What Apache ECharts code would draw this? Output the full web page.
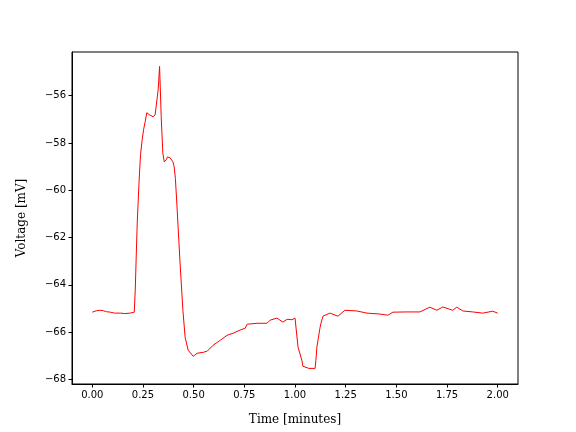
<!DOCTYPE html>
<html>
<head>
<meta charset="utf-8">
<script src="https://cdn.jsdelivr.net/npm/echarts@6/dist/echarts.min.js"></script>
<style>html,body{margin:0;padding:0;background:#fff}#c{width:576px;height:432px}</style>
</head>
<body>
<div id="c"></div>
<script>
var timeMin = [0.000,0.020,0.039,0.055,0.070,0.089,0.110,0.138,0.160,0.187,0.207,0.212,0.217,0.222,0.230,0.238,0.246,0.253,0.261,0.269,0.274,0.280,0.286,0.300,0.310,0.319,0.325,0.332,0.340,0.348,0.355,0.365,0.371,0.384,0.398,0.404,0.410,0.417,0.425,0.433,0.447,0.458,0.473,0.498,0.517,0.547,0.567,0.596,0.631,0.665,0.695,0.729,0.754,0.764,0.813,0.862,0.877,0.911,0.926,0.941,0.961,0.985,1.000,1.005,1.015,1.034,1.039,1.069,1.099,1.103,1.108,1.123,1.128,1.138,1.172,1.212,1.246,1.305,1.355,1.419,1.458,1.483,1.552,1.616,1.665,1.700,1.729,1.778,1.798,1.828,1.877,1.926,1.975,2.000];
var voltage = [-65.16,-65.10,-65.08,-65.10,-65.14,-65.16,-65.20,-65.20,-65.22,-65.20,-65.16,-64.23,-62.74,-61.34,-59.77,-58.50,-57.87,-57.44,-57.10,-56.72,-56.67,-56.80,-56.85,-56.89,-56.81,-56.17,-55.75,-54.76,-56.89,-58.42,-58.80,-58.71,-58.59,-58.63,-58.80,-59.01,-59.51,-60.54,-61.81,-63.08,-65.08,-66.22,-66.77,-67.03,-66.90,-66.86,-66.81,-66.56,-66.35,-66.14,-66.05,-65.92,-65.84,-65.67,-65.63,-65.63,-65.50,-65.41,-65.50,-65.58,-65.46,-65.48,-65.41,-65.46,-66.64,-67.20,-67.45,-67.54,-67.54,-67.20,-66.64,-65.84,-65.63,-65.33,-65.20,-65.33,-65.08,-65.11,-65.20,-65.24,-65.29,-65.16,-65.15,-65.15,-64.95,-65.08,-64.94,-65.08,-64.95,-65.11,-65.15,-65.20,-65.12,-65.20];
var xTicks = [0, 0.25, 0.5, 0.75, 1.0, 1.25, 1.5, 1.75, 2.0];
var yTicks = [-68, -66, -64, -62, -60, -58, -56];

var data = timeMin.map(function(t, i){ return [t, voltage[i]]; });
var chart = echarts.init(document.getElementById('c'), null, {renderer:'canvas'});
var tickFont = {fontFamily:'DejaVu Sans', fontSize:10, color:'#000'};
chart.setOption({
  animation:false,
  grid:{left:72, right:58, top:52, bottom:48, show:true, borderColor:'#000', borderWidth:1, backgroundColor:'#fff'},
  xAxis:{type:'value', min:-0.1, max:2.1,
    name:'Time [minutes]', nameLocation:'middle', nameGap:30,
    nameTextStyle:{fontFamily:'DejaVu Serif', fontSize:12, color:'#000'},
    axisLine:{show:true, onZero:false, lineStyle:{color:'#000', width:1}},
    axisTick:{show:true, length:3.5, customValues:xTicks, lineStyle:{color:'#000'}},
    axisLabel:Object.assign({customValues:xTicks, margin:6, formatter:function(v){return v.toFixed(2);}}, tickFont),
    splitLine:{show:false}},
  yAxis:{type:'value', min:-68.2, max:-54.15,
    name:'Voltage [mV]', nameLocation:'middle', nameGap:44, nameRotate:90,
    nameTextStyle:{fontFamily:'DejaVu Serif', fontSize:12, color:'#000'},
    axisLine:{show:true, onZero:false, lineStyle:{color:'#000', width:1}},
    axisTick:{show:true, length:3.5, customValues:yTicks, lineStyle:{color:'#000'}},
    axisLabel:Object.assign({customValues:yTicks, margin:6, formatter:function(v){return String(v).replace('-', '\u2212');}}, tickFont),
    splitLine:{show:false}},
  series:[{type:'line', data:data, showSymbol:false, symbol:'none',
    lineStyle:{color:'#ff0000', width:1}}]
});
</script>
</body>
</html>
